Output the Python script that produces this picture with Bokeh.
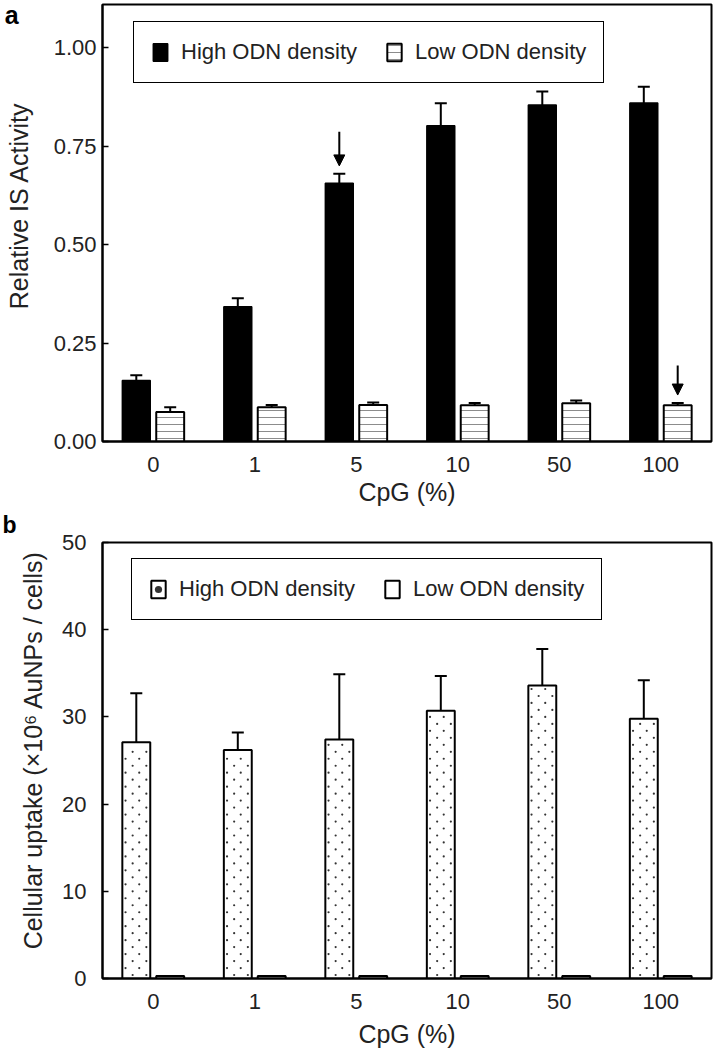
import math
from bokeh.plotting import figure
from bokeh.models import (ColumnDataSource, FactorRange, Range1d, FixedTicker,
                          NumeralTickFormatter, Whisker, TeeHead, Legend, LegendItem,
                          Label, Arrow, NormalHead)
from bokeh.transform import dodge
from bokeh.layouts import column
from bokeh.embed import file_html
from bokeh.resources import INLINE

# ---------------- data ----------------
categories = ["0", "1", "5", "10", "50", "100"]
series_names = ["High ODN density", "Low ODN density"]

# panel a : Relative IS Activity
activity_high = [0.155, 0.342, 0.656, 0.802, 0.855, 0.860]
activity_high_err = [0.013, 0.022, 0.024, 0.057, 0.034, 0.041]
activity_low = [0.075, 0.087, 0.093, 0.092, 0.097, 0.092]
activity_low_err = [0.012, 0.006, 0.006, 0.006, 0.007, 0.006]
activity_ticks = [0.0, 0.25, 0.5, 0.75, 1.0]

# panel b : Cellular uptake (x10^6 AuNPs / cells)
uptake_high = [27.1, 26.2, 27.4, 30.7, 33.6, 29.8]
uptake_high_err = [5.6, 2.0, 7.5, 4.0, 4.2, 4.4]
uptake_low = [0.3, 0.3, 0.3, 0.3, 0.3, 0.3]
uptake_ticks = [0, 10, 20, 30, 40, 50]

# arrows in panel a: (category, series index, arrow length)
arrow_marks = [("5", 0, 0.087), ("100", 1, 0.075)]

FONT = "Liberation Sans"
TXT = "#222222"
OFF = 0.167
BW = 0.275
offsets = [-OFF, OFF]


def style_axes(p, ticks, fmt, ystand, xstand, xlab_stand):
    p.xgrid.visible = False
    p.ygrid.visible = False
    p.outline_line_color = "black"
    p.outline_line_width = 2
    p.outline_line_alpha = 1
    for ax in (p.xaxis[0], p.yaxis[0]):
        ax.axis_line_color = "black"
        ax.axis_line_width = 2
        ax.major_label_text_font = FONT
        ax.major_label_text_font_size = "22px"
        ax.major_label_text_color = TXT
        ax.minor_tick_line_color = None
        ax.axis_label_text_font = FONT
        ax.axis_label_text_font_size = "25px"
        ax.axis_label_text_font_style = "normal"
        ax.axis_label_text_color = TXT
    p.xaxis.axis_label = "CpG (%)"
    p.xaxis.axis_label_standoff = xlab_stand
    p.xaxis.major_tick_line_color = None
    p.xaxis.major_tick_in = 0
    p.xaxis.major_tick_out = 0
    p.xaxis.major_label_standoff = xstand
    p.yaxis.ticker = FixedTicker(ticks=ticks)
    if fmt:
        p.yaxis.formatter = NumeralTickFormatter(format=fmt)
    p.yaxis.major_tick_in = 6
    p.yaxis.major_tick_out = 0
    p.yaxis.major_tick_line_width = 1.5
    p.yaxis.major_tick_line_color = "black"
    p.yaxis.major_label_standoff = ystand


def make_legend(p, items, loc):
    leg = Legend(items=[LegendItem(label=n, renderers=r) for n, r in zip(series_names, items)],
                 location=loc, orientation="horizontal",
                 border_line_color="black", border_line_width=1.5, border_line_alpha=1,
                 background_fill_color="white", background_fill_alpha=1,
                 label_text_font=FONT, label_text_font_size="22px", label_text_color=TXT,
                 glyph_width=18, glyph_height=22, label_standoff=12, spacing=28,
                 padding=17, margin=0)
    p.add_layout(leg)


def side_text(p, side, x, y, txt, size, bold=False, angle=0.0, align="left", baseline="alphabetic"):
    p.add_layout(Label(x=x, y=y, text=txt, angle=angle, text_align=align, text_baseline=baseline,
                       text_font=FONT, text_font_size=size,
                       text_font_style="bold" if bold else "normal",
                       text_color="black" if bold else TXT), side)


# ---------------- panel a ----------------
src_a = ColumnDataSource(dict(cat=categories, high=activity_high,
                              high_up=[v + e for v, e in zip(activity_high, activity_high_err)],
                              low=activity_low,
                              low_up=[v + e for v, e in zip(activity_low, activity_low_err)]))

pa = figure(x_range=FactorRange(*categories, range_padding=0), y_range=Range1d(0, 1.11),
            width=715, height=510, min_border_left=100, min_border_right=4,
            min_border_top=4, min_border_bottom=69,
            output_backend="svg", toolbar_location=None, tools="")
style_axes(pa, activity_ticks, "0.00", 6, 15, 3)

ra1 = pa.vbar(x=dodge("cat", offsets[0], range=pa.x_range), top="high", width=BW, source=src_a,
              fill_color="black", line_color="black", line_width=1.5)
ra2 = pa.vbar(x=dodge("cat", offsets[1], range=pa.x_range), top="low", width=BW, source=src_a,
              fill_color="white", line_color="black", line_width=2,
              hatch_pattern="horizontal_line", hatch_color="#8c8c8c", hatch_scale=7, hatch_weight=1)
for key, up, off in (("high", "high_up", offsets[0]), ("low", "low_up", offsets[1])):
    pa.add_layout(Whisker(source=src_a, base=dodge("cat", off, range=pa.x_range),
                          lower=key, upper=up, line_color="black", line_width=2,
                          lower_head=None,
                          upper_head=TeeHead(size=12, line_width=2, line_color="black")))
make_legend(pa, [[ra1], [ra2]], (31, 358))

ser_a = [activity_high, activity_low]
err_a = [activity_high_err, activity_low_err]
for cat, s, length in arrow_marks:
    i = categories.index(cat)
    xa = i + 0.5 + offsets[s]
    tip = ser_a[s][i] + err_a[s][i] + 0.02
    pa.add_layout(Arrow(x_start=xa, y_start=tip + length, x_end=xa, y_end=tip,
                        line_color="black", line_width=2,
                        end=NormalHead(size=11, fill_color="black", line_color="black")))

side_text(pa, "left", -0.962, 1.118, "a", "25px", bold=True, baseline="top")
side_text(pa, "left", -0.825, 0.599, "Relative IS Activity", "25px", angle=math.pi / 2,
          align="center", baseline="middle")

# ---------------- panel b ----------------
src_b = ColumnDataSource(dict(cat=categories, high=uptake_high,
                              high_up=[v + e for v, e in zip(uptake_high, uptake_high_err)],
                              low=uptake_low))

pb = figure(x_range=FactorRange(*categories, range_padding=0), y_range=Range1d(0, 50),
            width=715, height=540, min_border_left=102, min_border_right=4,
            min_border_top=32, min_border_bottom=71,
            output_backend="svg", toolbar_location=None, tools="")
style_axes(pb, uptake_ticks, None, 16, 15, 8)

rb1 = pb.vbar(x=dodge("cat", offsets[0], range=pb.x_range), top="high", width=BW, source=src_b,
              fill_color="white", line_color="black", line_width=2)
rb2 = pb.vbar(x=dodge("cat", offsets[1], range=pb.x_range), top="low", width=BW, source=src_b,
              fill_color="white", line_color="black", line_width=2)

# stipple texture of the high-density bars (staggered dots, derived from bar heights)
dot_x, dot_y = [], []
row_step = 0.8
for i, (cat, top) in enumerate(zip(categories, uptake_high)):
    k = 0
    y = row_step / 2
    while y < top - 0.3:
        cols = (-0.036, 0.099) if k % 2 == 0 else (-0.106, 0.029)
        for c in cols:
            dot_x.append(i + 0.5 + offsets[0] + c)
            dot_y.append(y)
        k += 1
        y += row_step
dots = pb.scatter(x=dot_x, y=dot_y, size=2.2, marker="circle", fill_color="#333333",
                  line_color=None)

pb.add_layout(Whisker(source=src_b, base=dodge("cat", offsets[0], range=pb.x_range),
                      lower="high", upper="high_up", line_color="black", line_width=2,
                      lower_head=None,
                      upper_head=TeeHead(size=12, line_width=2, line_color="black")))
make_legend(pb, [[rb1, dots], [rb2]], (29, 358))

side_text(pb, "above", -0.985, 53.5, "b", "23px", bold=True, baseline="top")
side_text(pb, "left", -0.680, 26.2, "Cellular uptake (×10⁶ AuNPs / cells)", "25px",
          angle=math.pi / 2, align="center", baseline="middle")

layout = column(pa, pb, spacing=0)
open("out.html", "w").write(file_html(layout, INLINE))
